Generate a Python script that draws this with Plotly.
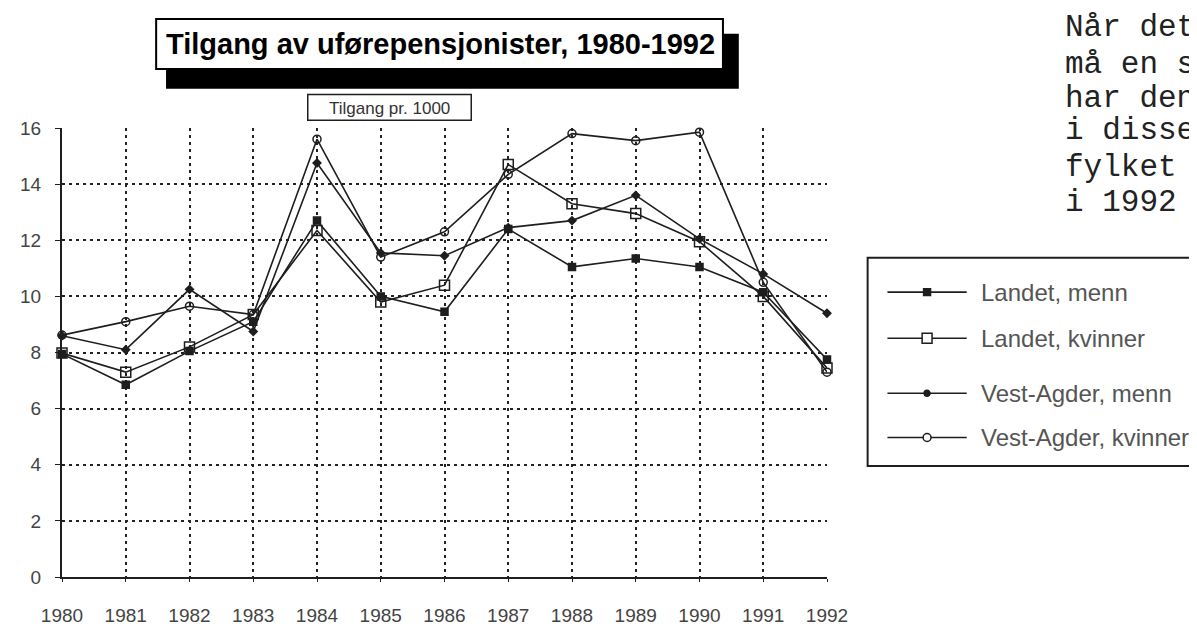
import plotly.graph_objects as go

# tilgang pr. 1000
years = list(range(1980, 1993))
landet_menn = [7.95, 6.85, 8.05, 9.1, 12.7, 10.0, 9.45, 12.4, 11.05, 11.35, 11.05, 10.15, 7.75]
landet_kvinner = [7.98, 7.3, 8.2, 9.35, 12.35, 9.8, 10.4, 14.7, 13.3, 12.95, 11.95, 10.0, 7.45]
va_menn = [8.6, 8.1, 10.25, 8.75, 14.75, 11.55, 11.45, 12.45, 12.7, 13.6, 12.05, 10.8, 9.4]
va_kvinner = [8.62, 9.1, 9.65, 9.35, 15.6, 11.4, 12.3, 14.35, 15.8, 15.55, 15.85, 10.5, 7.3]

y_ticks = [0, 2, 4, 6, 8, 10, 12, 14, 16]
names = ['Landet, menn', 'Landet, kvinner', 'Vest-Agder, menn', 'Vest-Agder, kvinner']
side_text = ['Når det', 'må en s', 'har den', 'i disse', 'fylket', 'i 1992']

# the page body has an 8px margin, so the figure is drawn 8px in from the corner
OFF = 8
W, H = 1197 - OFF, 638 - OFF
X0, X1 = 55, 827   # plot area in screenshot pixels
Y0, Y1 = 585, 128
INK = '#1e1e1e'
FONT = 'Liberation Sans, Arial'


def px(x):
    ''' screenshot pixel x -> paper x '''
    return (x - X0) / (X1 - X0)


def py(y):
    ''' screenshot pixel y -> paper y '''
    return (Y0 - y) / (Y0 - Y1)


def note(x, y, text, size, color, family=FONT, xanchor='center', bold=False):
    ''' text placed by screenshot pixels '''
    if bold:
        text = '<b>' + text + '</b>'
    return dict(xref='paper', yref='paper', x=px(x), y=py(y), text=text,
                showarrow=False, xanchor=xanchor, yanchor='middle',
                font=dict(family=family, size=size, color=color))


def box(x0, x1, y0, y1, fill=None, lw=0, lc=INK, kind='rect'):
    ''' shape placed by screenshot pixels (y0 top, y1 bottom) '''
    d = dict(type=kind, xref='paper', yref='paper', layer='above',
             x0=px(x0), x1=px(x1), y0=py(y1), y1=py(y0),
             line=dict(color=lc, width=lw))
    if fill:
        d['fillcolor'] = fill
    return d


# marker style per series: (symbol, size)
styles = [('square', 7), ('square-open', 10), ('diamond', 6), ('circle-open', 8)]
series = [landet_menn, landet_kvinner, va_menn, va_kvinner]

fig = go.Figure()
for name, vals, (sym, size) in zip(names, series, styles):
    fig.add_trace(go.Scatter(
        x=years, y=vals, name=name, mode='lines+markers',
        line=dict(color=INK, width=1.6),
        marker=dict(symbol=sym, size=size, color=INK, line=dict(color=INK, width=1.5)),
        cliponaxis=False, showlegend=False))

shapes = []
annotations = []

# title box with black drop shadow
shapes.append(box(160, 738, 32, 88, fill='black'))
shapes.append(box(150, 722, 17, 68, fill='white', lw=2, lc='black'))
annotations.append(note(437, 43, 'Tilgang av uførepensjonister, 1980-1992', 29, 'black', bold=True))

# small unit box
shapes.append(box(303, 468, 94, 120, fill='white', lw=1.5))
annotations.append(note(385, 108, 'Tilgang pr. 1000', 17, '#333'))

# hand made legend so the line samples get the long look of the original
shapes.append(box(868, 1210, 260, 472, lw=2))
leg_y = [295, 342, 398, 443]
for name, ly, (sym, size) in zip(names, leg_y, styles):
    shapes.append(dict(type='line', xref='paper', yref='paper',
                       x0=px(888), x1=px(968), y0=py(ly), y1=py(ly),
                       line=dict(color=INK, width=1.6)))
    r = size / 2
    kind = 'rect' if 'square' in sym else 'circle'
    fill = 'white' if 'open' in sym else INK
    shapes.append(box(928 - r, 928 + r, ly - r, ly + r, fill=fill, lw=1.5, kind=kind))
    annotations.append(note(980, ly, name, 24, '#555', xanchor='left'))

# typewriter text at the right edge
text_y = [26, 63, 98, 131, 168, 204]
for t, ty in zip(side_text, text_y):
    annotations.append(note(1065, ty, t, 31, '#222', xanchor='left',
                            family='Liberation Mono, Courier New, monospace'))

fig.update_layout(
    width=W, height=H, autosize=False,
    margin=dict(l=X0 - OFF, r=W - (X1 - OFF), t=Y1 - OFF, b=H - (Y0 - OFF), pad=0),
    paper_bgcolor='white', plot_bgcolor='white',
    shapes=shapes, annotations=annotations,
    font=dict(family=FONT, color='#444'))

grid = dict(showgrid=True, gridcolor='#222', gridwidth=1.8, griddash='2.5px,4.5px',
            showline=True, linecolor=INK, linewidth=2, zeroline=False,
            ticks='outside', tickcolor=INK, tickfont=dict(size=19, color='#444'))

fig.update_xaxes(range=[1980, 1992], tickvals=years, ticktext=[str(y) for y in years],
                 ticklen=3, ticklabelstandoff=17, **grid)
fig.update_yaxes(range=[0, 16], tickvals=y_ticks, ticktext=[str(v) for v in y_ticks],
                 ticklen=5, ticklabelstandoff=10, **grid)

fig.write_html("out.html")
